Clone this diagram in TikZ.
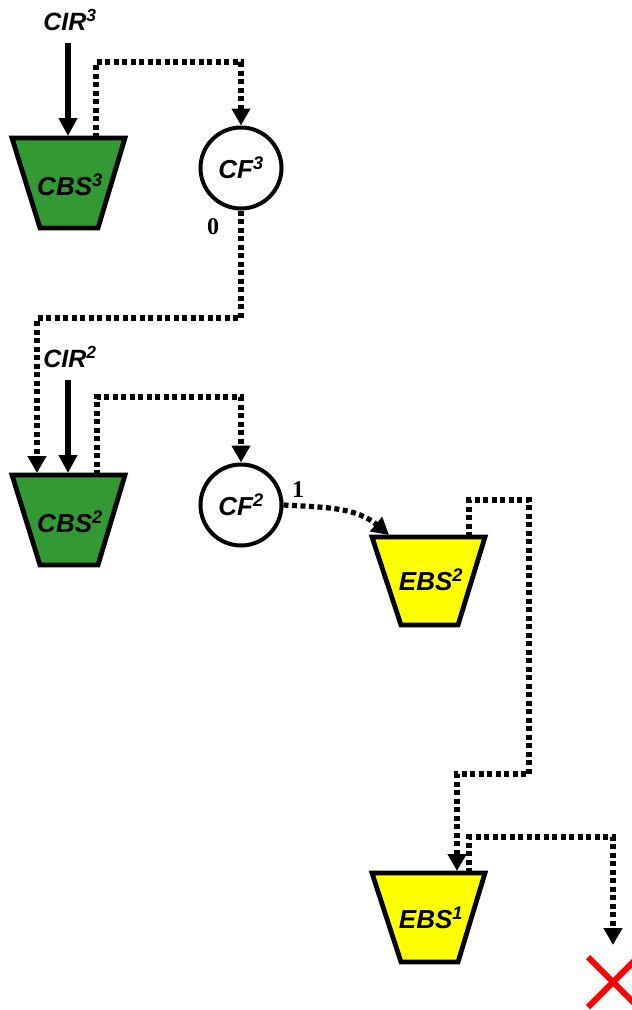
\documentclass[tikz,border=0pt]{standalone}
\usepackage{fontspec}
\newfontfamily\labfont{Liberation Sans}
\newfontfamily\numfont{Liberation Serif}
\usetikzlibrary{arrows.meta,calc}
\definecolor{bgreen}{HTML}{339933}
\definecolor{byellow}{HTML}{FFFF00}
\tikzset{
  lab/.style={font=\labfont\bfseries\itshape\fontsize{26}{26}\selectfont, inner sep=0pt},
  num/.style={font=\numfont\bfseries\fontsize{24}{24}\selectfont, inner sep=0pt},
  bucket/.style={draw=black, line width=4.8pt, line join=miter},
  cfnode/.style={circle, draw=black, line width=4pt, minimum size=81pt, inner sep=0pt, fill=white, font=\labfont\bfseries\itshape\fontsize{26}{26}\selectfont},
  tip/.style={-{Triangle[width=18pt,length=18pt]}},
  solidarrow/.style={tip, line width=5.2pt},
  dotarrow/.style={-{Triangle[width=18pt,length=17pt]}, line width=5.2pt, dash pattern=on 5pt off 3.5pt},
}
\begin{document}
\begin{tikzpicture}[x=1pt,y=-1pt]
\useasboundingbox (0,0) rectangle (632,1010);
% buckets
\draw[bucket, fill=bgreen] (12,138) -- (125,138) -- (98,228) -- (40,228) -- cycle;
\draw[bucket, fill=bgreen] (12,475) -- (125,475) -- (98,565) -- (40,565) -- cycle;
\draw[bucket, fill=byellow] (372,537) -- (485,537) -- (458,625) -- (401,625) -- cycle;
\draw[bucket, fill=byellow] (372,873) -- (485,873) -- (458,962) -- (401,962) -- cycle;
\node[lab] (cbs3) at (70,185) {CBS\textsuperscript{3}};
\node[lab] (cbs2) at (70,522) {CBS\textsuperscript{2}};
\node[lab] (ebs2) at (431,580) {EBS\textsuperscript{2}};
\node[lab] (ebs1) at (431,918) {EBS\textsuperscript{1}};
% named points on buckets
\coordinate (cbs3in) at (68,136);
\coordinate (cbs3out) at (96,138);
\coordinate (cbs2in) at (68,473);
\coordinate (cbs2fb) at (37,473);
\coordinate (cbs2out) at (97,475);
\coordinate (ebs2in) at (389,535);
\coordinate (ebs2out) at (469,537);
\coordinate (ebs1in) at (457,871);
\coordinate (ebs1out) at (469,873);
% CF nodes
\node[cfnode] (cf3) at (241,168) {CF\textsuperscript{3}};
\node[cfnode] (cf2) at (241,505) {CF\textsuperscript{2}};
% inputs
\node[lab, font=\labfont\bfseries\itshape\fontsize{25}{25}\selectfont] (cir3) at (70,20) {CIR\textsuperscript{3}};
\node[lab, font=\labfont\bfseries\itshape\fontsize{25}{25}\selectfont] (cir2) at (70,357) {CIR\textsuperscript{2}};
\coordinate (cir3s) at (68,43);
\coordinate (cir2s) at (68,380);
\draw[solidarrow] (cir3s) -- (cbs3in);
\draw[solidarrow] (cir2s) -- (cbs2in);
% dotted connectors
\draw[dotarrow] (cbs3out) -- (96,62) -- (241,62) -- (cf3.north);
\draw[dotarrow] (cf3.south) -- (241,318) -- (37,318) -- (cbs2fb);
\draw[dotarrow] (cbs2out) -- (97,397) -- (241,397) -- (cf2.north);
\draw[dotarrow] (cf2.east) to[out=-3,in=140] (ebs2in);
\draw[dotarrow] (ebs2out) -- (469,500) -- (529,500) -- (529,774) -- (457,774) -- (ebs1in);
\coordinate (xmark) at (613,982);
\draw[dotarrow] (ebs1out) -- (469,837) -- (613,837) -- (613,945);
% labels
\node[num] (l0) at (213,227) {0};
\node[num] (l1) at (298,490) {1};
% red cross
\draw[red, line width=6pt] ($(xmark)+(-25,-25)$) -- ($(xmark)+(25,25)$);
\draw[red, line width=6pt] ($(xmark)+(-25,25)$) -- ($(xmark)+(25,-25)$);
\end{tikzpicture}
\end{document}
